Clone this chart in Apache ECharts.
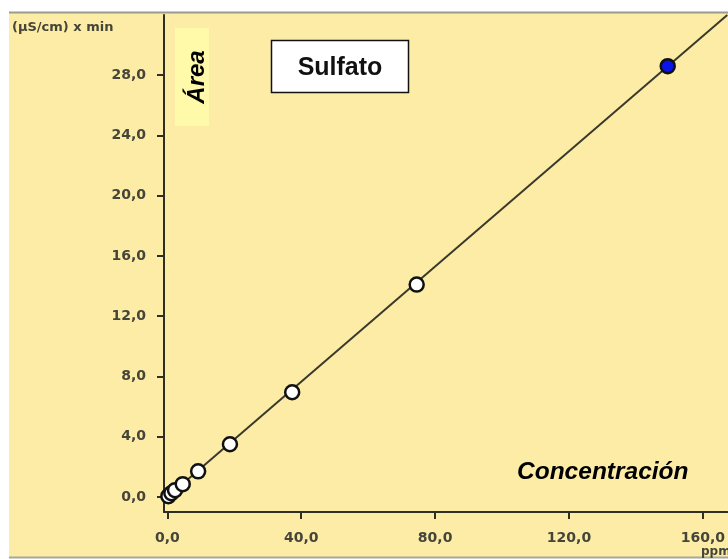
<!DOCTYPE html>
<html>
<head>
<meta charset="utf-8">
<script src="https://cdn.jsdelivr.net/npm/echarts@6/dist/echarts.min.js"></script>
<style>html,body{margin:0;padding:0;background:#fff}#c{width:728px;height:559px}</style>
</head>
<body>
<div id="c"></div>
<script>
// Calibration standards (ppm, (µS/cm) x min)
var standardsX = [0.3, 1.2, 2.3, 4.6, 9.2, 18.7, 37.3, 74.5];
var standardsY = [0.05, 0.25, 0.45, 0.85, 1.7, 3.5, 6.95, 14.1];
// Highlighted sample point
var sampleX = [149.5];
var sampleY = [28.6];
// Calibration fit line end points
var fitX = [0, 167.3];
var fitY = [0, 32.0];
// Tick values
var xTicks = [0, 40, 80, 120, 160];
var yTicks = [0, 4, 8, 12, 16, 20, 24, 28];

function zip(a, b) { return a.map(function (v, i) { return [v, b[i]]; }); }
function fmt(v) { return v.toFixed(1).replace('.', ','); }

var chart = echarts.init(document.getElementById('c'), null, { renderer: 'canvas' });
var axisColor = '#2e2e22';
var labelColor = '#45453a';
var option = {
  backgroundColor: '#ffffff',
  animation: false,
  grid: { left: 164, top: 15, right: 0, bottom: 47 },
  xAxis: {
    type: 'value', min: -1, max: 167.3,
    splitLine: { show: false },
    axisLine: { show: true, onZero: false, lineStyle: { color: axisColor, width: 2 } },
    axisTick: { show: true, length: 7, customValues: xTicks, lineStyle: { color: axisColor, width: 2 } },
    axisLabel: { customValues: xTicks, formatter: fmt, margin: 19, color: labelColor, fontFamily: 'DejaVu Sans', fontSize: 14, fontWeight: 'bold' }
  },
  yAxis: {
    type: 'value', min: -1, max: 32,
    splitLine: { show: false },
    axisLine: { show: true, onZero: false, lineStyle: { color: axisColor, width: 2 } },
    axisTick: { show: true, length: 7, customValues: yTicks, lineStyle: { color: axisColor, width: 2 } },
    axisLabel: { customValues: yTicks, formatter: fmt, margin: 18, color: labelColor, fontFamily: 'DejaVu Sans', fontSize: 14, fontWeight: 'bold' }
  },
  graphic: [
    { type: 'rect', z: -10, shape: { x: 9, y: 12, width: 719, height: 545 }, style: { fill: '#fceca6' } },
    { type: 'line', z: -9, shape: { x1: 9, y1: 12.5, x2: 728, y2: 12.5 }, style: { stroke: '#9a9a90', lineWidth: 2 } },
    { type: 'line', z: -9, shape: { x1: 9, y1: 557.5, x2: 728, y2: 557.5 }, style: { stroke: '#a8a898', lineWidth: 2 } },
    { type: 'text', z: 10, x: 12, y: 28, style: { text: '(µS/cm) x min', fill: labelColor, font: 'bold 13px "DejaVu Sans"', textVerticalAlign: 'middle' } },
    { type: 'text', z: 10, x: 701, y: 552, style: { text: 'ppm', fill: labelColor, font: 'bold 12px "DejaVu Sans"', textVerticalAlign: 'middle' } },
    { type: 'rect', z: 10, shape: { x: 175, y: 28, width: 34, height: 98 }, style: { fill: '#fffaaa' } },
    { type: 'text', z: 11, x: 197, y: 77, rotation: Math.PI / 2, style: { text: 'Área', fill: '#000', font: 'italic bold 24px "Liberation Sans"', textAlign: 'center', textVerticalAlign: 'middle' } },
    { type: 'rect', z: 10, shape: { x: 271.5, y: 40.5, width: 137, height: 52 }, style: { fill: '#ffffff', stroke: '#111', lineWidth: 1.5 } },
    { type: 'text', z: 11, x: 340, y: 68, style: { text: 'Sulfato', fill: '#111', font: 'bold 25px "Liberation Sans"', textAlign: 'center', textVerticalAlign: 'middle' } },
    { type: 'text', z: 11, x: 517, y: 472, style: { text: 'Concentración', fill: '#000', font: 'italic bold 24.5px "Liberation Sans"', textVerticalAlign: 'middle' } }
  ],
  series: [
    {
      type: 'line', data: zip(fitX, fitY), symbol: 'none', z: 2,
      lineStyle: { color: '#3a3a2c', width: 2 }
    },
    {
      type: 'scatter', data: zip(standardsX, standardsY), symbol: 'circle', symbolSize: 14, z: 3,
      itemStyle: { color: '#ffffff', borderColor: '#111', borderWidth: 2.5, opacity: 1 }
    },
    {
      type: 'scatter', data: zip(sampleX, sampleY), symbol: 'circle', symbolSize: 14, z: 3,
      itemStyle: { color: '#0a14e6', borderColor: '#111', borderWidth: 2.5, opacity: 1 }
    }
  ]
};
chart.setOption(option);
</script>
</body>
</html>
